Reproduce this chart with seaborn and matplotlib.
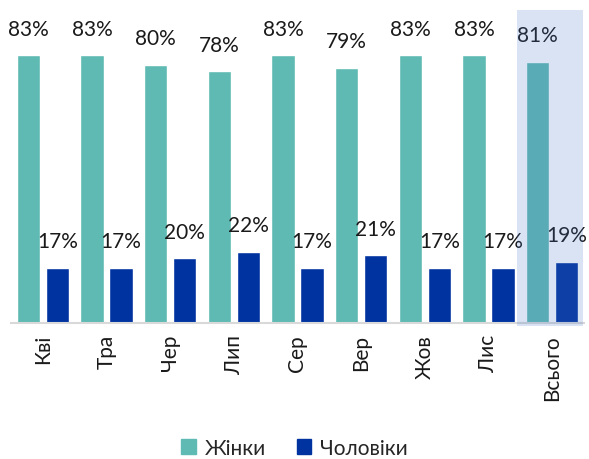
import pandas as pd
import matplotlib
matplotlib.use("Agg")
import matplotlib.pyplot as plt
import seaborn as sns
from matplotlib.patches import Rectangle

months = ["Кві", "Тра", "Чер", "Лип", "Сер", "Вер", "Жов", "Лис", "Всього"]
women = [83, 83, 80, 78, 83, 79, 83, 83, 81]
men = [17, 17, 20, 22, 17, 21, 17, 17, 19]
series = ["Жінки", "Чоловіки"]
colors = ["#5EBAB3", "#0033A0"]

df = pd.DataFrame({
    "month": months * 2,
    "value": women + men,
    "sex": [series[0]] * len(months) + [series[1]] * len(months),
})

sns.set_theme(style="white")
plt.rcParams["font.family"] = ["Lato", "DejaVu Sans"]

fig = plt.figure(figsize=(5.89, 4.60), dpi=100)
ax = fig.add_axes([11 / 589, 136 / 460, 573 / 589, 313 / 460])

sns.barplot(data=df, x="month", y="value", hue="sex", palette=colors,
            width=0.91, gap=0.2, saturation=1, ax=ax, legend=False)

for cont in ax.containers:
    ax.bar_label(cont, labels=[f"{v:.0f}%" for v in cont.datavalues],
                 padding=12, fontsize=15, color="#1a1a1a")

ax.set_ylim(0, 97)
ax.set_xlim(-0.5, 8.5)
ax.set_xlabel("")
ax.set_ylabel("")
ax.set_yticks([])
ax.tick_params(axis="x", length=0, labelsize=15, rotation=90, pad=8, colors="#1a1a1a")
for s in ["top", "left", "right"]:
    ax.spines[s].set_visible(False)
ax.spines["bottom"].set_color("#D9D9D9")
ax.spines["bottom"].set_linewidth(1.5)

# highlight for the total column
ax.add_patch(Rectangle((7.45, -1), 1.04, 98, facecolor="#4673C3", alpha=0.2,
                       edgecolor="none", zorder=5, clip_on=False))

handles = [plt.Rectangle((0, 0), 1, 1, color=c) for c in colors]
fig.legend(handles, series, loc="center", bbox_to_anchor=(0.5, 0.024),
           ncol=2, frameon=False, fontsize=15, handlelength=0.7, handleheight=0.7,
           handletextpad=0.4, columnspacing=1.5)

fig.savefig("out.png", dpi=100)
